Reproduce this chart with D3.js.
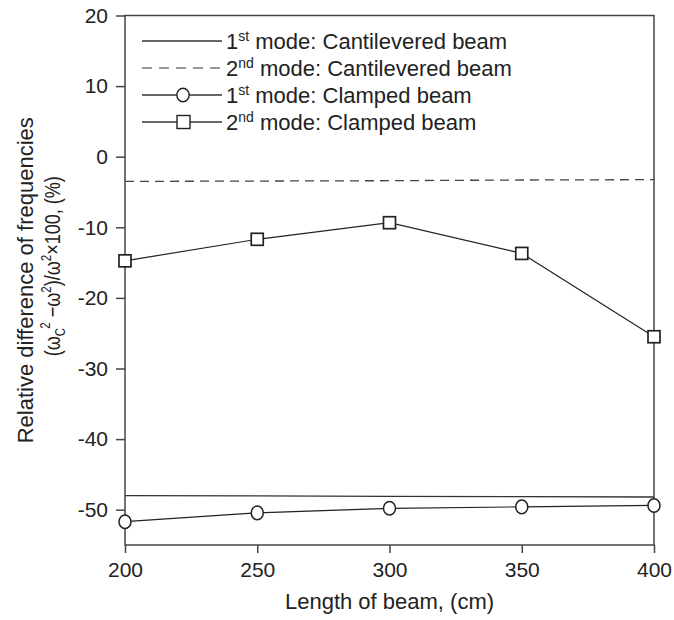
<!DOCTYPE html>
<html>
<head>
<meta charset="utf-8">
<script src="https://cdn.jsdelivr.net/npm/d3@7"></script>
<style>
  body { margin: 0; background: #fff; }
  svg { font-family: "Liberation Sans", Arial, sans-serif; }
</style>
</head>
<body>
<svg id="chart" width="674" height="620"></svg>
<script>
// Beam lengths (cm)
const lengths = [200, 250, 300, 350, 400];

// Relative difference of frequencies (%)
const cantilever1st = [-48.0, -48.05, -48.1, -48.15, -48.2];
const cantilever2nd = [-3.5, -3.45, -3.4, -3.3, -3.25];
const clamped1st = [-51.7, -50.45, -49.8, -49.6, -49.4];
const clamped2nd = [-14.75, -11.7, -9.35, -13.7, -25.5];

const xTicks = [200, 250, 300, 350, 400];
const yTicks = [20, 10, 0, -10, -20, -30, -40, -50];

const legendItems = [
  { ord: '1', sup: 'st', rest: ' mode: Cantilevered beam', dash: null, marker: null },
  { ord: '2', sup: 'nd', rest: ' mode: Cantilevered beam', dash: '10,7', marker: null },
  { ord: '1', sup: 'st', rest: ' mode: Clamped beam', dash: null, marker: 'circle' },
  { ord: '2', sup: 'nd', rest: ' mode: Clamped beam', dash: null, marker: 'square' }
];

const svg = d3.select('#chart');

const x = d3.scaleLinear().domain([200, 400]).range([125, 654]);
const y = d3.scaleLinear().domain([20, -55]).range([15.5, 545]);

const INK = '#222';
const FONT = '"Liberation Sans", Arial, sans-serif';

// frame
svg.append('rect')
  .attr('x', x(200)).attr('y', y(20))
  .attr('width', x(400) - x(200)).attr('height', y(-55) - y(20))
  .attr('fill', 'none').attr('stroke', '#444').attr('stroke-width', 1.5);

// axes
const xAxis = svg.append('g')
  .attr('transform', `translate(0,${y(-55)})`)
  .call(d3.axisBottom(x).tickValues(xTicks).tickSize(8).tickPadding(9).tickFormat(d3.format('d')));
const yAxis = svg.append('g')
  .attr('transform', `translate(${x(200)},0)`)
  .call(d3.axisLeft(y).tickValues(yTicks).tickSize(9).tickPadding(8)
    .tickFormat((d) => (d < 0 ? '-' + Math.abs(d) : String(d))));

[xAxis, yAxis].forEach((g) => {
  g.select('.domain').remove();
  g.selectAll('line').attr('stroke', '#444').attr('stroke-width', 1.5);
  g.selectAll('text')
    .attr('fill', INK)
    .style('font-size', '21px')
    .style('font-family', FONT);
});

const line = d3.line()
  .x((d) => x(d[0]))
  .y((d) => y(d[1]));

function series(vals) {
  return lengths.map((l, i) => [l, vals[i]]);
}

svg.append('path')
  .attr('d', line(series(cantilever1st)))
  .attr('fill', 'none').attr('stroke', '#333').attr('stroke-width', 1.3);

svg.append('path')
  .attr('d', line(series(cantilever2nd)))
  .attr('fill', 'none').attr('stroke', '#444').attr('stroke-width', 1.3)
  .attr('stroke-dasharray', '9,6');

svg.append('path')
  .attr('d', line(series(clamped1st)))
  .attr('fill', 'none').attr('stroke', INK).attr('stroke-width', 1.2);

svg.append('path')
  .attr('d', line(series(clamped2nd)))
  .attr('fill', 'none').attr('stroke', INK).attr('stroke-width', 1.2);

svg.append('g').selectAll('ellipse')
  .data(series(clamped1st))
  .join('ellipse')
  .attr('cx', (d) => x(d[0])).attr('cy', (d) => y(d[1]))
  .attr('rx', 6).attr('ry', 6.8)
  .attr('fill', '#fff').attr('stroke', INK).attr('stroke-width', 1.5);

svg.append('g').selectAll('rect')
  .data(series(clamped2nd))
  .join('rect')
  .attr('x', (d) => x(d[0]) - 6).attr('y', (d) => y(d[1]) - 6)
  .attr('width', 12).attr('height', 12)
  .attr('fill', '#fff').attr('stroke', INK).attr('stroke-width', 1.7);

// legend
const legend = svg.append('g');
const rowY = [41, 68, 95, 122];
legendItems.forEach((it, i) => {
  const ly = rowY[i];
  legend.append('line')
    .attr('x1', 142).attr('x2', 222).attr('y1', ly).attr('y2', ly)
    .attr('stroke', it.dash ? '#777' : '#333').attr('stroke-width', 1.3)
    .attr('stroke-dasharray', it.dash);
  if (it.marker === 'circle') {
    legend.append('ellipse')
      .attr('cx', 183).attr('cy', ly).attr('rx', 6.2).attr('ry', 6.7)
      .attr('fill', '#fff').attr('stroke', INK).attr('stroke-width', 1.4);
  } else if (it.marker === 'square') {
    legend.append('rect')
      .attr('x', 177).attr('y', ly - 6.5).attr('width', 13).attr('height', 13)
      .attr('fill', '#fff').attr('stroke', INK).attr('stroke-width', 1.4);
  }
  const t = legend.append('text')
    .attr('x', 226).attr('y', ly + 8)
    .attr('fill', INK).style('font-size', '22px');
  t.append('tspan').text(it.ord);
  t.append('tspan').attr('dy', -8).style('font-size', '14px').text(it.sup);
  t.append('tspan').attr('dy', 8).text(it.rest);
});

// x-axis title
svg.append('text')
  .attr('x', (x(200) + x(400)) / 2).attr('y', 609)
  .attr('text-anchor', 'middle')
  .attr('fill', INK).style('font-size', '22px')
  .text('Length of beam, (cm)');

// y-axis title (two lines)
const yMid = (y(20) + y(-55)) / 2;
svg.append('text')
  .attr('transform', `translate(33,${yMid}) rotate(-90)`)
  .attr('text-anchor', 'middle')
  .attr('fill', INK).style('font-size', '22px')
  .text('Relative difference of frequencies');

// second line is narrower in the original, squeeze it along its run
const yl2 = svg.append('text')
  .attr('transform', `translate(60,${yMid - 14}) rotate(-90) scale(0.82,1)`)
  .attr('text-anchor', 'middle')
  .attr('fill', INK).style('font-size', '22px');
yl2.append('tspan').text('(ω');
yl2.append('tspan').attr('dy', 5).style('font-size', '14px').text('C');
yl2.append('tspan').attr('dy', -15).attr('dx', -1).style('font-size', '14px').text('2');
yl2.append('tspan').attr('dy', 10).text(' −ω');
yl2.append('tspan').attr('dy', -9).style('font-size', '14px').text('2');
yl2.append('tspan').attr('dy', 9).text(')/ω');
yl2.append('tspan').attr('dy', -9).style('font-size', '14px').text('2');
yl2.append('tspan').attr('dy', 9).text('×100, (%)');
</script>
</body>
</html>
